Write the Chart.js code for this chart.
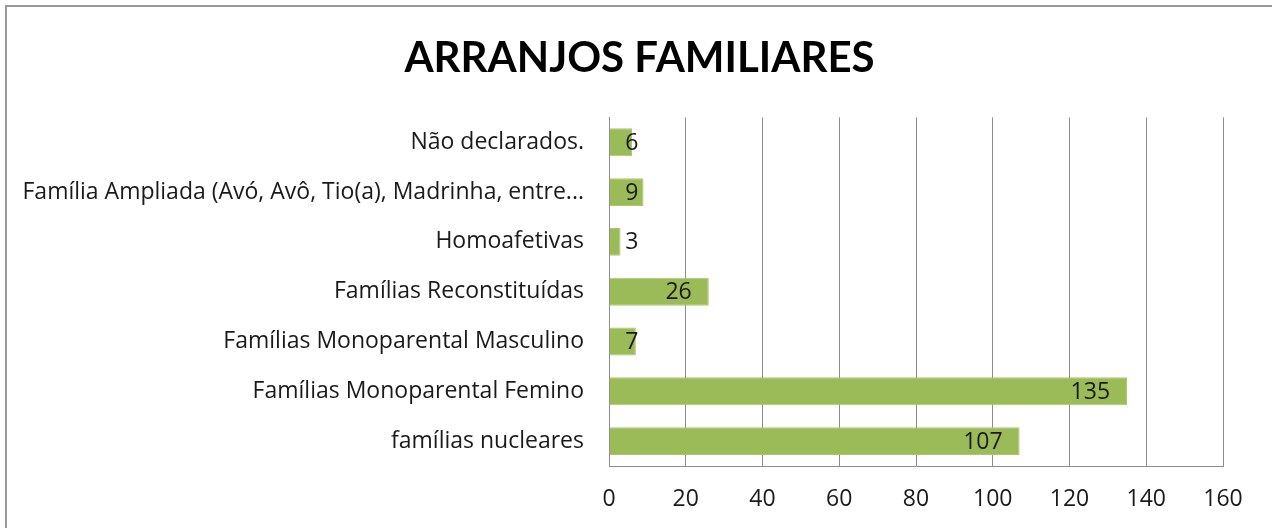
<!DOCTYPE html>
<html>
<head>
<meta charset="utf-8">
<script src="https://cdn.jsdelivr.net/npm/chart.js@4"></script>
<style>
  html, body { margin: 0; padding: 0; background: #fff; overflow: hidden; }
  #frame { position: absolute; left: 5px; top: 5px; width: 1400px; height: 700px;
           border-left: 2px solid #999; border-top: 2px solid #999; }
  #wrap { position: absolute; left: 0; top: 0; width: 1272px; height: 528px; }
</style>
</head>
<body>
<div id="frame"></div>
<div id="wrap"><canvas id="arranjosChart"></canvas></div>
<script>
const categories = [
    'Não declarados.',
    'Família Ampliada (Avó, Avô, Tio(a), Madrinha, entre...',
    'Homoafetivas',
    'Famílias Reconstituídas',
    'Famílias Monoparental Masculino',
    'Famílias Monoparental Femino',
    'famílias nucleares'
];
const familyCounts = [6, 9, 3, 26, 7, 135, 107];
const xTicks = [0, 20, 40, 60, 80, 100, 120, 140, 160];

const textFont = '"Open Sans", Lato, sans-serif';
const titleFont = 'Lato, "Open Sans", sans-serif';

// labels at the inside end of each bar, like the spreadsheet chart
const barLabels = {
    id: 'barLabels',
    afterDatasetsDraw(chart) {
        const ctx = chart.ctx;
        const meta = chart.getDatasetMeta(0);
        ctx.save();
        ctx.font = '23px ' + textFont;
        ctx.fillStyle = '#1a1a1a';
        ctx.textAlign = 'right';
        ctx.textBaseline = 'middle';
        meta.data.forEach((bar, i) => {
            const x = Math.max(bar.x - 17, bar.base + 29);
            ctx.fillText(String(familyCounts[i]), x, bar.y + 1);
        });
        ctx.restore();
    }
};

// centre the title on the whole frame rather than the padded area
const titleShift = {
    id: 'titleShift',
    afterLayout(chart) {
        if (chart.titleBlock) chart.titleBlock.right += 56;
    }
};

new Chart(document.getElementById('arranjosChart'), {
    type: 'bar',
    data: {
        labels: categories,
        datasets: [{
            data: familyCounts,
            backgroundColor: '#9BBB59',
            borderColor: '#a9c86b',
            borderWidth: 1,
            barPercentage: 0.56,
            categoryPercentage: 1
        }]
    },
    options: {
        indexAxis: 'y',
        responsive: true,
        maintainAspectRatio: false,
        animation: false,
        layout: { padding: { left: 0, right: 49, top: 0, bottom: 0 } },
        plugins: {
            legend: { display: false },
            tooltip: { enabled: false },
            title: {
                display: true,
                text: 'ARRANJOS FAMILIARES',
                color: '#000',
                font: { family: titleFont, size: 42, weight: 'bold', lineHeight: 1.2 },
                padding: { top: 33, bottom: 34 }
            }
        },
        scales: {
            x: {
                min: 0,
                max: 160,
                afterBuildTicks: (axis) => { axis.ticks = xTicks.map(v => ({ value: v })); },
                afterFit: (axis) => { axis.height = 62; },
                grid: { color: '#8c8c8c', lineWidth: 1, drawTicks: false },
                border: { display: true, color: '#8c8c8c' },
                ticks: { color: '#1a1a1a', padding: 20, font: { family: textFont, size: 23 } }
            },
            y: {
                afterFit: (axis) => { axis.width = 609; },
                grid: { display: false, drawTicks: false },
                border: { display: true, color: '#8c8c8c' },
                ticks: { color: '#1a1a1a', padding: 25, font: { family: textFont, size: 23 } }
            }
        }
    },
    plugins: [barLabels, titleShift]
});
</script>
</body>
</html>
